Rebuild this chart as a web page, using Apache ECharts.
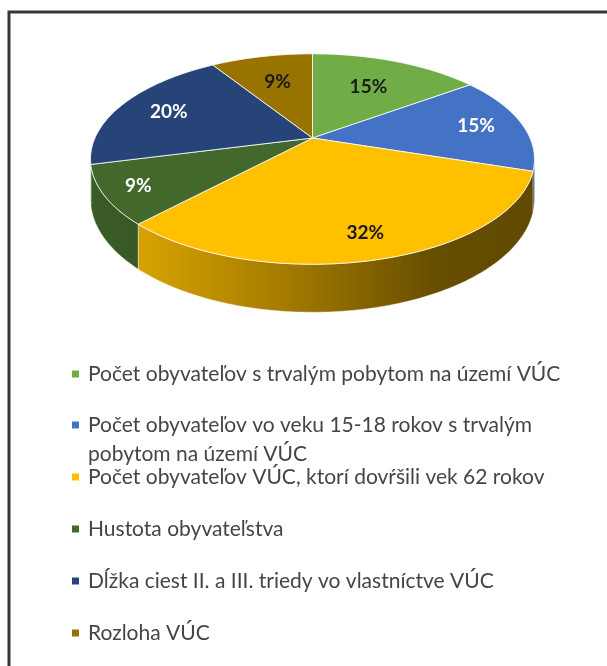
<!DOCTYPE html>
<html>
<head>
<meta charset="utf-8">
<script src="https://cdn.jsdelivr.net/npm/echarts@6/dist/echarts.min.js"></script>
<style>
  html, body { margin: 0; padding: 0; background: #fff; }
  #chart { width: 607px; height: 666px; }
</style>
</head>
<body>
<div id="chart"></div>
<script>
var categories = [
    'Počet obyvateľov s trvalým pobytom na území VÚC',
    'Počet obyvateľov vo veku 15-18 rokov s trvalým pobytom na území VÚC',
    'Počet obyvateľov VÚC, ktorí dovŕšili vek 62 rokov',
    'Hustota obyvateľstva',
    'Dĺžka ciest II. a III. triedy vo vlastníctve VÚC',
    'Rozloha VÚC'
];
var values = [15, 15, 32, 9, 20, 9];

var colors = ['#70AD47', '#4472C4', '#FFC000', '#43682B', '#264478', '#997300'];
var labelColors = ['#1a1a1a', '#ffffff', '#1a1a1a', '#ffffff', '#ffffff', '#1a1a1a'];
// how far out (0..1 of radius) each percent label sits
var labelRadius = [0.63, 0.78, 0.82, 0.85, 0.75, 0.65];

// 3d pie geometry (perspective disc)
var cx = 312.5, cy = 138, rx = 217.5, ry = 101, persp = 0.2, depth = 38.4;
var wallFrom = 180 - Math.acos(persp) * 180 / Math.PI;
var wallTo = 180 + Math.acos(persp) * 180 / Math.PI;

var total = values.reduce(function (a, b) { return a + b; }, 0);
var starts = [];
values.reduce(function (acc, v) { starts.push(acc); return acc + v; }, 0);

function proj(deg, k, drop) {
    var a = deg * Math.PI / 180;
    var X = k * Math.sin(a), Z = -k * Math.cos(a);
    var d = 1 - persp * Z;
    return [cx + rx * X / d, cy + (ry * Z + drop) / d];
}

function shade(hex, f) {
    var n = parseInt(hex.slice(1), 16);
    var r = Math.round(((n >> 16) & 255) * f);
    var g = Math.round(((n >> 8) & 255) * f);
    var b = Math.round((n & 255) * f);
    return 'rgb(' + r + ',' + g + ',' + b + ')';
}

function rim(a, b, drop) {
    var pts = [];
    var n = Math.max(2, Math.ceil(Math.abs(b - a)));
    for (var j = 0; j <= n; j++) {
        pts.push(proj(a + (b - a) * j / n, 1, drop));
    }
    return pts;
}

function renderSlice(i) {
    return function (params, api) {
        var a = api.value(0) / total * 360;
        var b = (api.value(0) + api.value(1)) / total * 360;
        var color = api.visual('color');
        var children = [];

        // outer wall, only the part facing the viewer
        var wa = Math.max(a, wallFrom), wb = Math.min(b, wallTo);
        if (wb > wa) {
            var pts = rim(wa, wb, 0).concat(rim(wb, wa, depth));
            children.push({
                type: 'polygon',
                z2: 1,
                shape: { points: pts },
                style: {
                    fill: new echarts.graphic.LinearGradient(cx - rx * 1.02, 0, cx + rx * 1.02, 0, [
                        { offset: 0, color: shade(color, 0.88) },
                        { offset: 0.12, color: shade(color, 0.84) },
                        { offset: 0.47, color: shade(color, 0.62) },
                        { offset: 0.78, color: shade(color, 0.40) },
                        { offset: 1, color: shade(color, 0.38) }
                    ], true),
                    stroke: 'rgba(255,255,255,0.55)',
                    lineWidth: 0.8
                }
            });
        }

        // top face
        children.push({
            type: 'polygon',
            z2: 10,
            shape: { points: [[cx, cy]].concat(rim(a, b, 0)) },
            style: {
                fill: color,
                stroke: 'rgba(255,255,255,0.8)',
                lineWidth: 1,
                lineJoin: 'round'
            }
        });

        // percent label
        var p = proj((a + b) / 2, labelRadius[i], 0);
        children.push({
            type: 'text',
            z2: 20,
            x: p[0],
            y: p[1],
            style: {
                text: Math.round(api.value(1) / total * 100) + '%',
                fill: labelColors[i],
                font: 'bold 19px Lato',
                align: 'center',
                verticalAlign: 'middle'
            }
        });
        return { type: 'group', children: children };
    };
}

var series = categories.map(function (name, i) {
    return {
        type: 'custom',
        name: name,
        coordinateSystem: 'none',
        itemStyle: { color: colors[i] },
        renderItem: renderSlice(i),
        data: [[starts[i], values[i]]]
    };
});

function legendAt(top, names, formatter) {
    var lg = {
        orient: 'vertical',
        left: 72,
        top: top,
        padding: 0,
        icon: 'rect',
        itemWidth: 7,
        itemHeight: 7,
        itemGap: 23,
        selectedMode: false,
        data: names,
        textStyle: {
            fontFamily: 'Lato',
            fontSize: 21,
            color: '#454545',
            lineHeight: 29,
            padding: [0, 0, 0, 4]
        }
    };
    if (formatter) lg.formatter = formatter;
    return lg;
}

var myChart = echarts.init(document.getElementById('chart'));
myChart.setOption({
    animation: false,
    backgroundColor: '#fff',
    graphic: [{
        type: 'rect',
        shape: { x: 9, y: 12, width: 700, height: 700 },
        style: { fill: 'none', stroke: '#363636', lineWidth: 3 },
        silent: true
    }],
    legend: [
        legendAt(359.5, [categories[0]]),
        // wrapped entry: a blank first line keeps the icon level with the first text line
        legendAt(381.5, [categories[1]], function (name) {
            return ' \n' + name.replace(' pobytom', '\npobytom');
        }),
        legendAt(462.5, categories.slice(2))
    ],
    series: series
});
</script>
</body>
</html>
